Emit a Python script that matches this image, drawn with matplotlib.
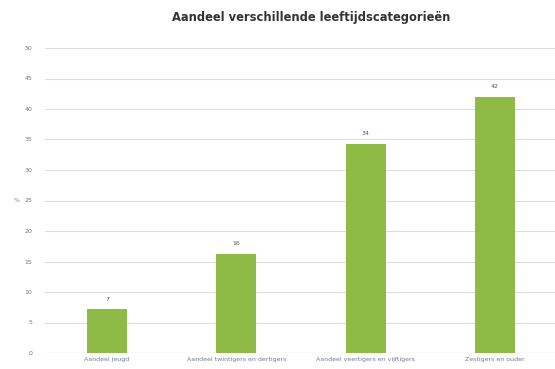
import numpy as np
import matplotlib.pyplot as plt

categories = ["Aandeel jeugd", "Aandeel twintigers en dertigers",
              "Aandeel veertigers en vijftigers", "Zestigers en ouder"]
values = [7.2, 16.3, 34.3, 42.0]
labels = ["7", "16", "34", "42"]
yticks = [0, 5, 10, 15, 20, 25, 30, 35, 40, 45, 50]

fig = plt.figure(figsize=(5.55, 3.69), dpi=100)
ax = fig.add_axes([45 / 555, 16 / 369, 510 / 555, 305 / 369])

x = np.arange(len(categories))
bars = ax.bar(x, values, width=0.31, color="#8dbb45", zorder=3)
for b, lab in zip(bars, labels):
    ax.text(b.get_x() + b.get_width() / 2, b.get_height() + 1.2, lab,
            ha="center", va="bottom", fontsize=4.5, color="#555555")

ax.set_xlim(-0.479, 3.464)
ax.set_ylim(0, 50)
ax.set_yticks(yticks)
ax.set_xticks(x)
ax.set_xticklabels(categories, fontsize=4.5, color="#6a7f8a")
ax.tick_params(axis="y", labelsize=4.5, colors="#777777", length=0, pad=9)
ax.tick_params(axis="x", length=0, pad=3)
ax.grid(axis="y", color="#dddddd", linewidth=0.8, zorder=0)
ax.set_axisbelow(True)
for s in ax.spines.values():
    s.set_visible(False)
ax.axhline(0, color="#d0d8e0", linewidth=0.8, zorder=1)
ax.set_ylabel("%", fontsize=4.5, color="#777777", rotation=0,
              ha="center", va="center")
ax.yaxis.set_label_coords(-0.055, 0.5)

fig.text(0.561, 0.952, "Aandeel verschillende leeftijdscategorieën",
         ha="center", va="center", fontsize=8.3, fontweight="bold",
         color="#333333")

fig.savefig("out.png", dpi=100)
